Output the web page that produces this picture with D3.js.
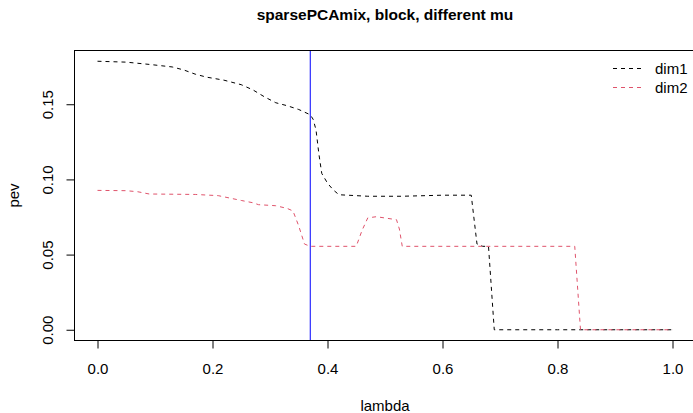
<!DOCTYPE html>
<html>
<head>
<meta charset="utf-8">
<script src="https://cdn.jsdelivr.net/npm/d3@7"></script>
<style>
  html, body { margin: 0; padding: 0; background: #fff; }
  svg { display: block; font-family: "Liberation Sans", Arial, Helvetica, sans-serif; }
</style>
</head>
<body>
<svg id="chart" width="693" height="413"></svg>
<script>
// ---- data ----
const title = "sparsePCAmix, block, different mu";
const xLabel = "lambda";
const yLabel = "pev";
const seriesNames = ["dim1", "dim2"];
const seriesColors = ["#000000", "#DF536B"];

const lambda1 = [0, 0.05, 0.09, 0.13, 0.15, 0.17, 0.19, 0.22, 0.25, 0.27, 0.29, 0.31, 0.33, 0.35,
                 0.37, 0.375, 0.38, 0.385, 0.39, 0.40, 0.41, 0.42, 0.47, 0.53, 0.60, 0.65, 0.66,
                 0.67, 0.68, 0.69, 0.80, 0.90, 1.0];
const dim1 = [0.1786, 0.178, 0.1765, 0.1748, 0.1728, 0.170, 0.168, 0.166, 0.163, 0.1596, 0.155,
              0.151, 0.149, 0.1465, 0.143, 0.140, 0.133, 0.117, 0.104, 0.0975, 0.093, 0.0898,
              0.0888, 0.0888, 0.0895, 0.0895, 0.057, 0.0555, 0.0555, 0, 0, 0, 0];

const lambda2 = [0, 0.05, 0.07, 0.09, 0.17, 0.21, 0.23, 0.25, 0.27, 0.28, 0.31, 0.33, 0.34, 0.35,
                 0.36, 0.37, 0.45, 0.46, 0.47, 0.485, 0.52, 0.525, 0.53, 0.60, 0.70, 0.83, 0.84,
                 0.90, 1.0];
const dim2 = [0.0927, 0.0925, 0.0918, 0.0903, 0.090, 0.0892, 0.0876, 0.086, 0.0845, 0.0832, 0.0825,
              0.0807, 0.079, 0.069, 0.057, 0.0555, 0.0555, 0.066, 0.0744, 0.0752, 0.0732, 0.067,
              0.0555, 0.0555, 0.0555, 0.0555, 0, 0, 0];

const vLine = 0.37;
const xTicks = [0, 0.2, 0.4, 0.6, 0.8, 1.0];
const yTicks = [0, 0.05, 0.10, 0.15];

// ---- layout ----
const svg = d3.select("#chart");
const pLeft = 74.5, pRight = 695.5, pTop = 50.5, pBottom = 340.5;

const xMin = 0, xMax = 1;
const yMin = 0, yMax = d3.max(dim1.concat(dim2));
const xPad = (xMax - xMin) * 0.04, yPad = (yMax - yMin) * 0.04;

const x = d3.scaleLinear().domain([xMin - xPad, xMax + xPad]).range([pLeft, pRight]);
const y = d3.scaleLinear().domain([yMin - yPad, yMax + yPad]).range([pBottom, pTop]);

svg.append("defs").append("clipPath").attr("id", "clip")
  .append("rect").attr("x", pLeft).attr("y", pTop).attr("width", pRight - pLeft).attr("height", pBottom - pTop);

const plot = svg.append("g").attr("clip-path", "url(#clip)");

const line = d3.line().x(d => x(d[0])).y(d => y(d[1]));

const series = [
  { name: seriesNames[0], color: seriesColors[0], pts: lambda1.map((l, i) => [l, dim1[i]]) },
  { name: seriesNames[1], color: seriesColors[1], pts: lambda2.map((l, i) => [l, dim2[i]]) }
];

series.forEach(s => {
  plot.append("path")
    .attr("d", line(s.pts))
    .attr("fill", "none")
    .attr("stroke", s.color)
    .attr("stroke-width", 1)
    .attr("stroke-dasharray", "4,4");
});

plot.append("line")
  .attr("x1", x(vLine)).attr("x2", x(vLine))
  .attr("y1", pTop).attr("y2", pBottom)
  .attr("stroke", "#0000FF").attr("stroke-width", 1);

svg.append("rect")
  .attr("x", pLeft).attr("y", pTop)
  .attr("width", pRight - pLeft).attr("height", pBottom - pTop)
  .attr("fill", "none").attr("stroke", "#000").attr("stroke-width", 1);

const xAxis = svg.append("g")
  .attr("transform", `translate(0,${pBottom})`)
  .call(d3.axisBottom(x).tickValues(xTicks).tickFormat(d3.format(".1f")).tickSize(8).tickSizeOuter(0));
xAxis.select(".domain").remove();
xAxis.selectAll(".tick line").attr("stroke", "#000");
xAxis.selectAll(".tick text")
  .attr("y", 33.5).attr("dy", null)
  .attr("fill", "#000")
  .style("font-size", "15px")
  .style("font-family", "'Liberation Sans', Arial, sans-serif");

const yAxis = svg.append("g")
  .attr("transform", `translate(${pLeft},0)`)
  .call(d3.axisLeft(y).tickValues(yTicks).tickFormat(d3.format(".2f")).tickSize(8).tickSizeOuter(0));
yAxis.select(".domain").remove();
yAxis.selectAll(".tick line").attr("stroke", "#000");
yAxis.selectAll(".tick text")
  .attr("x", null).attr("dy", null)
  .attr("transform", "translate(-22,0) rotate(-90)")
  .attr("text-anchor", "middle")
  .attr("fill", "#000")
  .style("font-size", "15px")
  .style("font-family", "'Liberation Sans', Arial, sans-serif");

svg.append("text")
  .attr("x", (pLeft + pRight) / 2).attr("y", 20)
  .attr("text-anchor", "middle")
  .style("font-size", "15.5px").style("font-weight", "bold")
  .text(title);

svg.append("text")
  .attr("x", (pLeft + pRight) / 2).attr("y", 411)
  .attr("text-anchor", "middle")
  .style("font-size", "15px")
  .text(xLabel);

svg.append("text")
  .attr("transform", `translate(19,${(pTop + pBottom) / 2}) rotate(-90)`)
  .attr("text-anchor", "middle")
  .style("font-size", "15px")
  .text(yLabel);

const legY = [68.5, 87.5];
series.forEach((s, i) => {
  svg.append("line")
    .attr("x1", 613).attr("x2", 642)
    .attr("y1", legY[i]).attr("y2", legY[i])
    .attr("stroke", s.color).attr("stroke-width", 1)
    .attr("stroke-dasharray", "4,4");
  svg.append("text")
    .attr("x", 655).attr("y", legY[i] + 5.3)
    .style("font-size", "15px")
    .text(s.name);
});
</script>
</body>
</html>
